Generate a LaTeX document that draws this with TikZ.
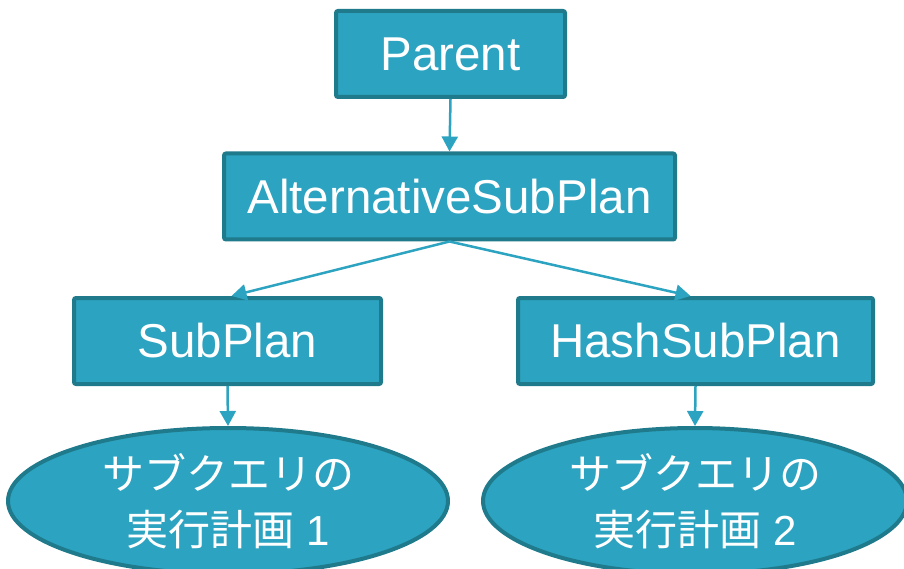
\documentclass[tikz,border=0pt]{standalone}
\usepackage{fontspec}
\setmainfont{Liberation Sans}
\newfontfamily\jpfont{Noto Sans CJK JP}
\usetikzlibrary{shapes.geometric,arrows.meta}
\definecolor{boxfill}{HTML}{2CA3C0}
\definecolor{boxline}{HTML}{1F7A8C}
\definecolor{arrowc}{HTML}{2CA3C0}
\tikzset{
  planbox/.style={draw=boxline, fill=boxfill, line width=4pt, rounded corners=2pt,
    text=white, font=\fontsize{47.5}{54}\selectfont, inner sep=0pt, minimum height=86pt},
  planell/.style={ellipse, draw=boxline, fill=boxfill, line width=4pt,
    text=white, font=\fontsize{42}{56}\selectfont, inner sep=0pt, align=center,
    minimum height=146pt},
  conn/.style={draw=arrowc, line width=2.5pt, -{Triangle[length=15pt,width=16pt]}}
}
\begin{document}
\begin{tikzpicture}[x=1pt,y=-1pt]
\useasboundingbox (0,0) rectangle (904,569);
\node[planbox, minimum width=229pt] (p) at (450.5,54) {Parent};
\node[planbox, minimum width=451pt] (a) at (449.5,196.5) {AlternativeSubPlan};
\node[planbox, minimum width=307pt] (s) at (227.5,341) {SubPlan};
\node[planbox, minimum width=355pt] (h) at (695.5,341) {HashSubPlan};
\node[planell, minimum width=440pt] (e1) at (228,501) {\jpfont サブクエリの\\\jpfont 実行計画\rmfamily\ 1};
\node[planell, minimum width=424pt] (e2) at (695,501) {\jpfont サブクエリの\\\jpfont 実行計画\rmfamily\ 2};
\draw[conn] (p.south) -- (a.north);
\draw[conn] (a.south) -- ([xshift=4pt]s.north);
\draw[conn] (a.south) -- ([xshift=-5pt]h.north);
\draw[conn] (s.south) -- (e1.north);
\draw[conn] (h.south) -- (e2.north);
\end{tikzpicture}
\end{document}
